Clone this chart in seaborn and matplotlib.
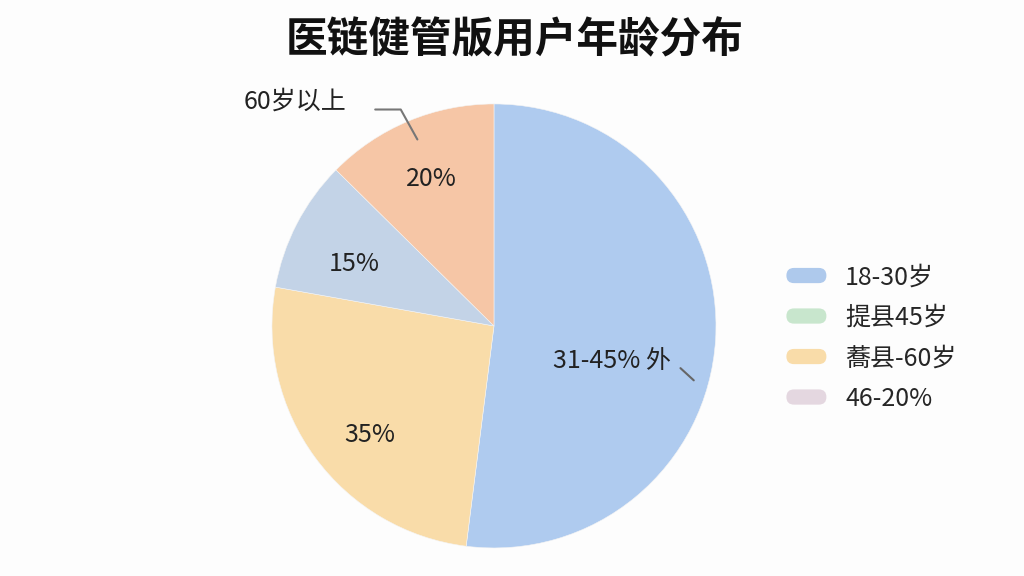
import numpy as np
import matplotlib
matplotlib.use("Agg")
import matplotlib.pyplot as plt
import seaborn as sns
from matplotlib.patches import FancyBboxPatch
from matplotlib.legend_handler import HandlerPatch
import matplotlib.patches as mpatches

# ---- data ----
title = "医链健管版用户年龄分布"
slice_values = [52.0, 25.8, 9.6, 12.6]
slice_labels = ["31-45% 外", "35%", "15%", "20%"]
slice_colors = ["#AFCBEF", "#F9DCA9", "#C3D3E7", "#F6C6A6"]
legend_labels = ["18-30岁", "提县45岁", "蕎县-60岁", "46-20%"]
legend_colors = ["#AEC9EC", "#C8E6CD", "#F9DCA9", "#E4D7E0"]
outer_label = "60岁以上"

sns.set_theme(style="white")
plt.rcParams['font.family'] = ['Noto Sans CJK SC', 'DejaVu Sans']

fig = plt.figure(figsize=(10.24, 5.76), dpi=100)
fig.patch.set_facecolor("#FDFDFD")

ax = fig.add_axes([0.2656, 0.0486, 0.4336, 0.771])
ax.set_facecolor("none")
wedges, _ = ax.pie(slice_values, colors=slice_colors, startangle=90,
                   counterclock=False, radius=1.0,
                   wedgeprops=dict(linewidth=0.4, edgecolor="#F4F4F4"))
ax.set_xlim(-1, 1)
ax.set_ylim(-1, 1)
ax.set_aspect("equal")
ax.axis("off")

# in-slice labels
label_pos = [(0.53, -0.16), (-0.56, -0.49), (-0.63, 0.28), (-0.28, 0.66)]
for (x, y), t in zip(label_pos, slice_labels):
    ax.text(x, y, t, ha="center", va="center", fontsize=18, color="#222222")

# leader line for blue label
ax.plot([0.84, 0.90], [-0.19, -0.245], color="#666666", lw=1.5)

# outer label + leader
ax.text(-0.895, 1.01, outer_label, ha="center", va="center", fontsize=18, color="#222222")
ax.plot([-0.535, -0.42, -0.345], [0.975, 0.975, 0.84], color="#777777", lw=1.5)

# title
fig.text(0.503, 0.93, title, ha="center", va="center", fontsize=30,
         fontweight="semibold", color="#111111")


class RoundHandler(HandlerPatch):
    def create_artists(self, legend, orig_handle, xdescent, ydescent,
                       width, height, fontsize, trans):
        p = FancyBboxPatch((-xdescent, -ydescent), width, height,
                           boxstyle="round,pad=0,rounding_size=%f" % (height / 2),
                           facecolor=orig_handle.get_facecolor(),
                           edgecolor="none", transform=trans)
        return [p]


handles = [mpatches.Patch(facecolor=c) for c in legend_colors]
leg = fig.legend(handles, legend_labels, loc="center left",
                 bbox_to_anchor=(0.746, 0.413), frameon=False, fontsize=18,
                 handlelength=1.6, handleheight=0.56, labelspacing=0.58,
                 handletextpad=0.75,
                 handler_map={mpatches.Patch: RoundHandler()})

fig.savefig("out.png", dpi=100, facecolor=fig.get_facecolor())
